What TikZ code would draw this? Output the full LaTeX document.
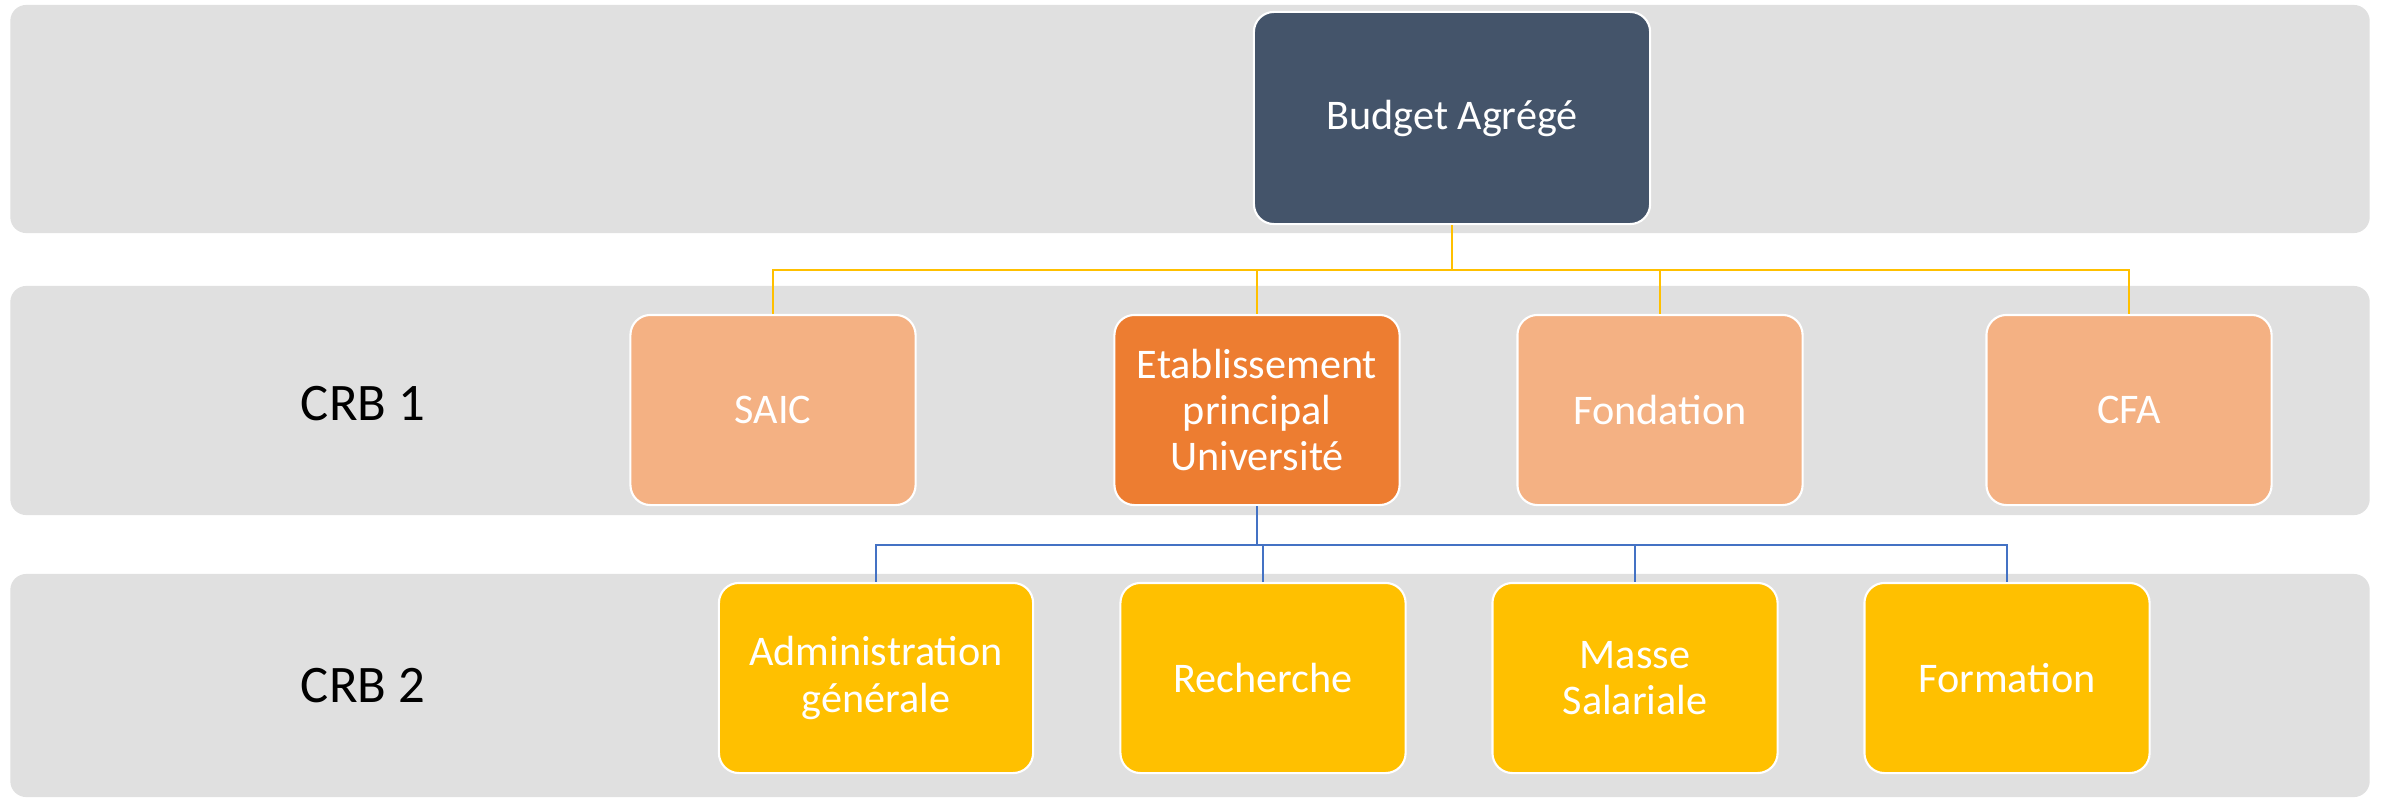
\documentclass[tikz,border=0pt]{standalone}
\usepackage{fontspec}
\setmainfont{Carlito}
\definecolor{bandgray}{HTML}{E0E0E0}
\definecolor{topblue}{HTML}{44546A}
\definecolor{lightorange}{HTML}{F4B183}
\definecolor{darkorange}{HTML}{ED7D31}
\definecolor{gold}{HTML}{FFC000}
\definecolor{linkblue}{HTML}{4472C4}
\begin{document}
\begin{tikzpicture}[x=0.01cm,y=-0.01cm,
  band/.style={draw=none, fill=bandgray, rounded corners=0.16cm, inner sep=0pt},
  box/.style={draw=white, line width=0.6pt, rounded corners=0.2cm, inner sep=2pt,
    text=white, align=center, font=\fontsize{12}{13.2}\selectfont,
    minimum width=2.85cm, minimum height=1.9cm},
  lvlabel/.style={font=\fontsize{15}{18}\selectfont, text=black},
  yline/.style={draw=gold, line width=0.8pt},
  bline/.style={draw=linkblue, line width=0.8pt}]
\fill[white] (0,0) rectangle (2389,800);
\useasboundingbox (0,0) rectangle (2389,800);
% bands
\node[band, minimum width=23.58cm, minimum height=2.28cm] (band1) at (1190,119) {};
\node[band, minimum width=23.58cm, minimum height=2.29cm] (band2) at (1190,400.5) {};
\node[band, minimum width=23.58cm, minimum height=2.23cm] (band3) at (1190,685.5) {};
% labels
\node[lvlabel] (crb1) at (363,404) {CRB 1};
\node[lvlabel] (crb2) at (363,686) {CRB 2};
% top
\node[box, fill=topblue, minimum width=3.96cm, minimum height=2.12cm] (budget) at (1452,118) {Budget Agrégé};
% row 1
\node[box, fill=lightorange] (saic) at (773,410) {SAIC};
\node[box, fill=darkorange] (etab) at (1257,410) {Etablissement\\principal\\Université};
\node[box, fill=lightorange] (fond) at (1660,410) {Fondation};
\node[box, fill=lightorange] (cfa) at (2129,410) {CFA};
% row 2
\node[box, fill=gold, minimum width=3.14cm] (admin) at (876,678) {Administration\\générale};
\node[box, fill=gold] (rech) at (1263,678) {Recherche};
\node[box, fill=gold] (masse) at (1635,678) {Masse\\Salariale};
\node[box, fill=gold] (form) at (2007,678) {Formation};
% connectors
\coordinate (ybus) at (1452,270);
\coordinate (bbus) at (1257,545);
\foreach \c in {saic,etab,fond,cfa}{
  \draw[yline] (budget.south) |- (\c.north |- ybus) -- (\c.north);
}
\foreach \c in {admin,rech,masse,form}{
  \draw[bline] (etab.south) |- (\c.north |- bbus) -- (\c.north);
}
\end{tikzpicture}
\end{document}
